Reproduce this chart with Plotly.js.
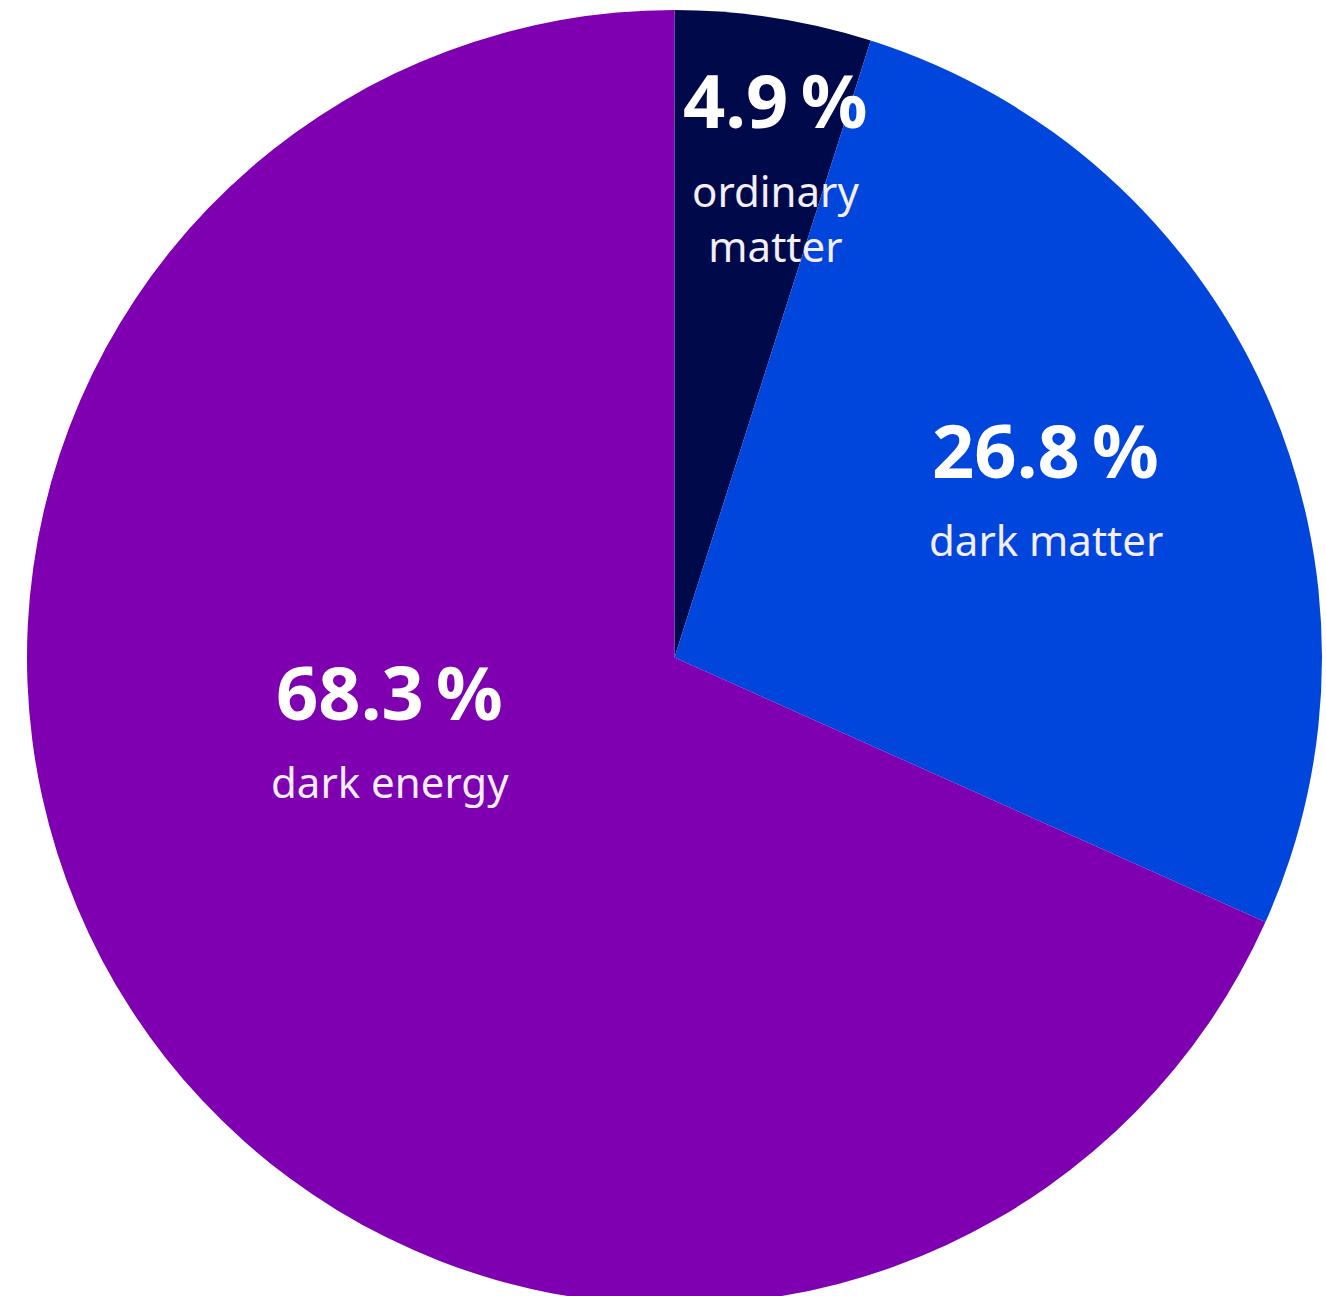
<!DOCTYPE html>
<html>
<head>
<meta charset="utf-8">
<script src="https://cdn.plot.ly/plotly-3.0.1.min.js"></script>
<style>
html,body{margin:0;padding:0;background:#fff;overflow:hidden;}
#chart{width:1326px;height:1305px;}
</style>
</head>
<body>
<div id="chart"></div>
<script>
// ---- data ----
const categories = ["ordinary matter", "dark matter", "dark energy"];
const labelLines = ["ordinary<br>matter", "dark matter", "dark energy"];
const percentValues = [4.9, 26.8, 68.3];
const sliceColors = ["#000a4a", "#0045dc", "#7e00b0"];

// ---- label placement style (fraction of radius, angle tweak in degrees) ----
const labelRadius = [0.805, 0.625, 0.457];
const labelAngleShift = [2.3, 0.7, 17.1];

const W = 1326, H = 1305;
const padTop = 10, padLeft = 27, diam = 1295;
const cx = padLeft + diam / 2, cy = padTop + diam / 2, R = diam / 2;

const total = percentValues.reduce((a, b) => a + b, 0);
const annotations = [];
let cum = 0;
percentValues.forEach((v, i) => {
  const mid = (cum + v / 2) / total * 360 + labelAngleShift[i];
  cum += v;
  const th = mid * Math.PI / 180;
  const r = labelRadius[i] * R;
  const px = cx + r * Math.sin(th);
  const py = cy - r * Math.cos(th);
  const pctText = "<b>" + v.toFixed(1) + "\u2009%</b>";
  annotations.push({
    xref: "paper", yref: "paper", x: px / W, y: 1 - py / H,
    xanchor: "center", yanchor: "middle", yshift: 47,
    text: pctText, showarrow: false,
    font: {family: "Noto Sans", size: 74, color: "#ffffff"}
  });
  const nLines = labelLines[i].split("<br>").length;
  annotations.push({
    xref: "paper", yref: "paper", x: px / W, y: 1 - py / H,
    xanchor: "center", yanchor: "middle", yshift: nLines > 1 ? -72 : -43,
    text: labelLines[i], showarrow: false,
    font: {family: "Noto Sans", size: 42, color: "#f3eef8"}
  });
});

const trace = {
  type: "pie",
  labels: categories,
  values: percentValues,
  sort: false,
  direction: "clockwise",
  rotation: 0,
  textinfo: "none",
  hoverinfo: "label+value",
  marker: {colors: sliceColors, line: {width: 0}},
  domain: {x: [padLeft / W, (padLeft + diam) / W], y: [1 - (padTop + diam) / H, 1 - padTop / H]},
  showlegend: false
};

const layout = {
  width: W, height: H,
  margin: {l: 0, r: 0, t: 0, b: 0},
  paper_bgcolor: "#ffffff",
  showlegend: false,
  annotations: annotations
};

Plotly.newPlot("chart", [trace], layout, {displayModeBar: false, staticPlot: true});
</script>
</body>
</html>
